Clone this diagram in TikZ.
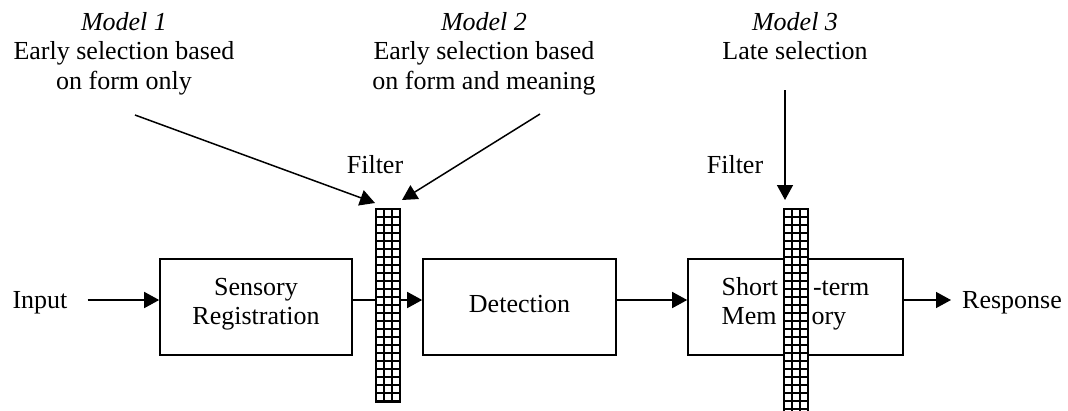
\documentclass[tikz,border=0pt]{standalone}
\usepackage{fontspec}
\setmainfont{Liberation Serif}
\usetikzlibrary{arrows.meta}
\tikzset{
  txt/.style={inner sep=0pt, font=\fontsize{26}{29.5}\selectfont},
  boxnode/.style={draw, line width=1.6pt, inner sep=0pt},
  arr/.style={line width=1.5pt, -{Triangle[length=15pt,width=16pt]}},
  filterbar/.style={draw, line width=2.4pt, fill=white, minimum width=24pt, inner sep=0pt,
    path picture={
      \foreach \i in {1,2}
        \draw[line width=1.5pt] ([xshift=\i*8pt]path picture bounding box.south west) -- ([xshift=\i*8pt]path picture bounding box.north west);
      \foreach \j in {1,...,30}
        \draw[line width=1.5pt] ([yshift=-\j*8pt]path picture bounding box.north west) -- ([yshift=-\j*8pt]path picture bounding box.north east);
    }}
}
\begin{document}
\begin{tikzpicture}[x=1pt,y=-1pt]
\useasboundingbox (0,0) rectangle (1068,410);
% boxes
\node[boxnode, minimum width=192pt, minimum height=96pt] (sr) at (256,307) {};
\node[boxnode, minimum width=193pt, minimum height=96pt] (det) at (519.5,307) {};
\node[boxnode, minimum width=215pt, minimum height=96pt] (stm) at (795.5,307) {};
\node[txt, align=center] (srt) at ([yshift=3pt]sr.center) {Sensory\\Registration};
\node[txt, align=center] (dett) at ([yshift=3pt]det.center) {Detection};
\node[txt, align=left] (stmt) at ([yshift=3pt]stm.center) {Short\hspace{35pt}-term\\Mem\hspace{35pt}ory};
% input / response
\node[txt, anchor=base] (inp) at (40,308) {Input};
\node[txt, anchor=base west] (resp) at (962,308) {Response};
% flow arrows (at y = 300)
\draw[arr] ([xshift=20pt]inp.east |- 0,300) -- ([yshift=7pt]sr.west);
\draw[arr] ([yshift=7pt]sr.east) -- ([yshift=7pt]det.west);
\draw[arr] ([yshift=7pt]det.east) -- ([yshift=7pt]stm.west);
\draw[arr] ([yshift=7pt]stm.east) -- ([xshift=-11pt]resp.west |- 0,300);
% filters
\node[filterbar, minimum height=193pt] (f1) at (388,305.5) {};
\node[filterbar, minimum height=209pt] (f2) at (796,313.5) {};
\node[txt, anchor=base] (f1l) at (375,173) {Filter};
\node[txt, anchor=base] (f2l) at (735,173) {Filter};
% models
\node[txt, align=center, anchor=north] (m1) at (124,12.2) {\textit{Model 1}\\Early selection based\\on form only};
\node[txt, align=center, anchor=north] (m2) at (484,12.2) {\textit{Model 2}\\Early selection based\\on form and meaning};
\node[txt, align=center, anchor=north] (m3) at (795,12.2) {\textit{Model 3}\\Late selection};
\coordinate (m1a) at (135,115);
\coordinate (m1b) at (375,203);
\coordinate (m2a) at (540,114);
\coordinate (m2b) at (402,200);
\coordinate (m3a) at (785,90);
\coordinate (m3b) at (785,200);
\draw[arr] (m1a) -- (m1b);
\draw[arr] (m2a) -- (m2b);
\draw[arr] (m3a) -- (m3b);
\end{tikzpicture}
\end{document}
